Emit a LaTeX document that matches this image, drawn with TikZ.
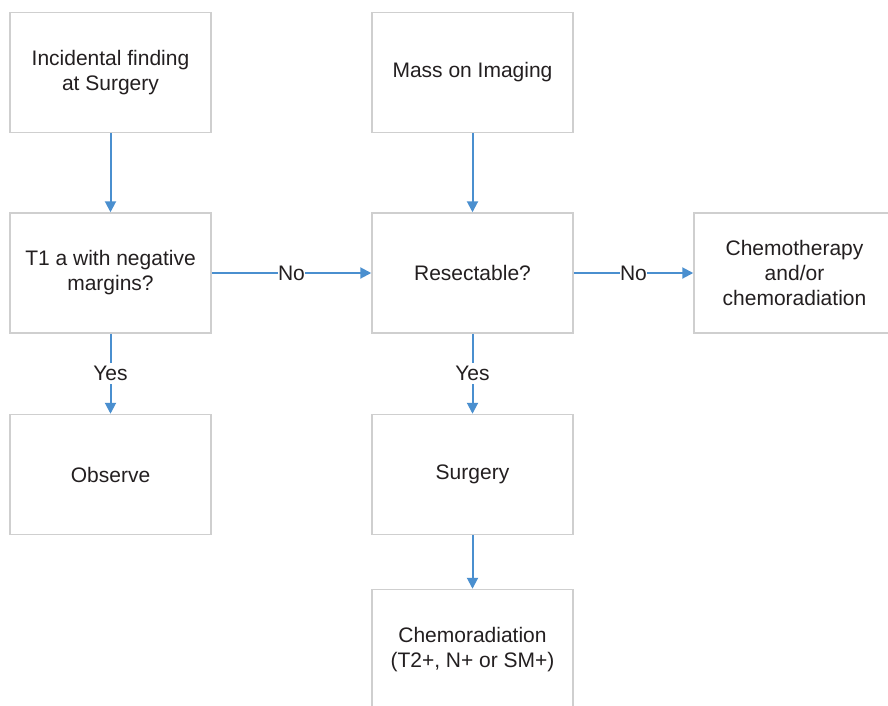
\documentclass[tikz,border=0pt]{standalone}
\usepackage{fontspec}
\setmainfont{Liberation Sans}
\usetikzlibrary{arrows.meta}
\definecolor{boxline}{HTML}{CFCFCF}
\definecolor{flow}{HTML}{4A8FCF}
\definecolor{txt}{HTML}{231F20}
\begin{document}
\begin{tikzpicture}[x=1pt,y=-1pt,
  box/.style={draw=boxline, line width=1.5pt, fill=white,
    minimum width=201pt, minimum height=#1, inner sep=0pt,
    align=center, text=txt, font=\fontsize{21}{25}\selectfont},
  box/.default=120pt,
  flowarrow/.style={draw=flow, line width=2pt,
    -{Triangle[length=11pt,width=11pt]}},
  lbl/.style={fill=white, inner sep=0.5pt, text=txt,
    font=\fontsize{21}{25}\selectfont},
  vlbl/.style={lbl, inner ysep=3pt}]
  % page frame
  \clip (0,0) rectangle (888,705);
  \fill[white] (0,0) rectangle (888,705);

  % entry points
  \node[box] (inc)  at (110.5,72.5) {Incidental finding\\at Surgery};
  \node[box] (mass) at (472.5,72.5) {Mass on Imaging};

  % decisions
  \node[box] (t1)    at (110.5,273) {T1 a with negative\\margins?};
  \node[box] (res)   at (472.5,273) {Resectable?};
  \node[box] (chemo) at (794.5,273) {Chemotherapy\\and/or\\chemoradiation};

  % outcomes
  \node[box] (obs)  at (110.5,474.5) {Observe};
  \node[box] (surg) at (472.5,474.5) {Surgery};
  \node[box] (crt)  at (472.5,649.5) {Chemoradiation\\(T2+, N+ or SM+)};

  % connectors
  \draw[flowarrow] (inc) -- (t1);
  \draw[flowarrow] (mass) -- (res);
  \draw[flowarrow] (t1) -- node[lbl] {No} (res);
  \draw[flowarrow] (res) -- node[lbl] {No} (chemo);
  \draw[flowarrow] (t1) -- node[vlbl] {Yes} (obs);
  \draw[flowarrow] (res) -- node[vlbl] {Yes} (surg);
  \draw[flowarrow] (surg) -- (crt);
\end{tikzpicture}
\end{document}
